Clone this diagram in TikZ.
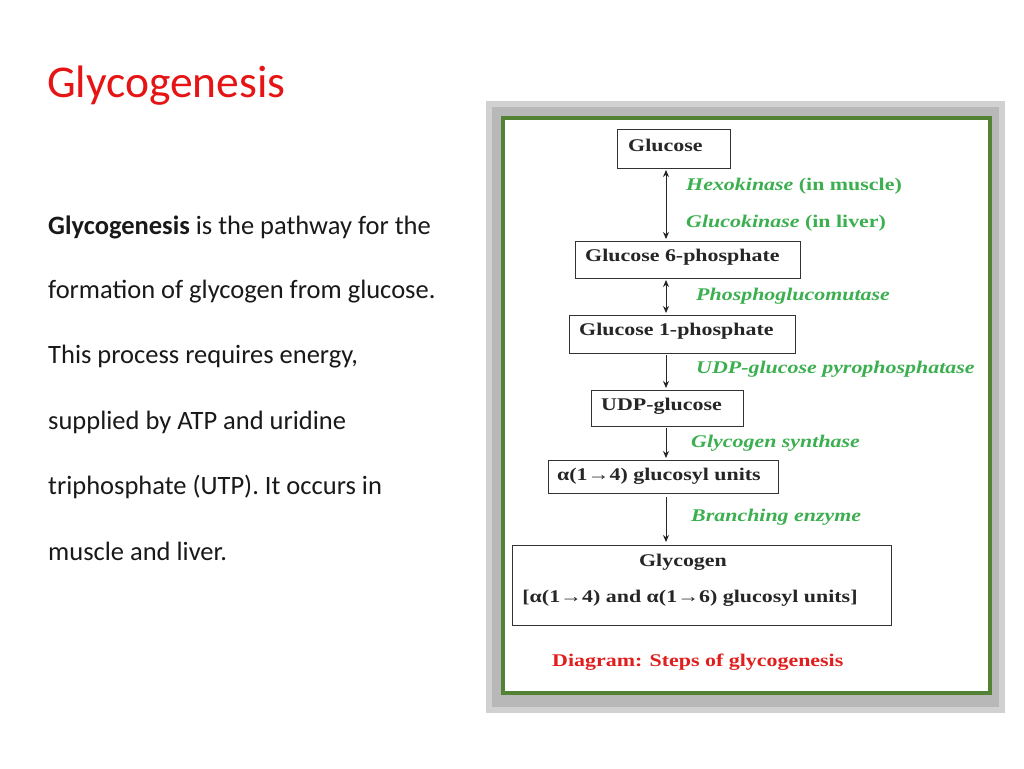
\documentclass[tikz,border=0pt]{standalone}
\usepackage{fontspec}
\setmainfont{Carlito}
\newfontfamily\dfont{Liberation Serif}
\usetikzlibrary{arrows.meta}
\definecolor{tred}{RGB}{230,20,20}
\definecolor{fgreen}{RGB}{84,130,53}
\definecolor{lgreen}{RGB}{60,175,80}
\definecolor{cred}{RGB}{225,30,30}
\newcommand{\dw}[1]{\scalebox{1.29}[1.05]{#1}}
\tikzset{
 bx/.style={draw=black!80,line width=0.8pt,inner sep=0pt,anchor=north west},
 bt/.style={anchor=west,font=\dfont\bfseries\fontsize{17}{20}\selectfont,text=black!85,inner sep=0pt},
 lb/.style={anchor=west,text=lgreen,font=\dfont\bfseries\fontsize{17}{20}\selectfont,inner sep=0pt},
 ar/.style={-{Stealth[length=7pt,width=6pt]},line width=0.9pt,black!85},
 dar/.style={{Stealth[length=7pt,width=6pt]}-{Stealth[length=7pt,width=6pt]},line width=0.9pt,black!85},
 body/.style={anchor=west,inner sep=0pt,font=\fontsize{26.5}{30}\selectfont,text=black!90}
}
\begin{document}
\begin{tikzpicture}[x=1pt,y=-1pt]
\useasboundingbox[fill=white] (0,0) rectangle (1024,768);
\node[anchor=west,inner sep=0pt,text=tred,font=\fontsize{45.5}{48}\selectfont] (title) at (47,86) {Glycogenesis};
\node[body] (t1) at (48,227) {\textbf{Glycogenesis} is the pathway for the};
\node[body] (t2) at (48,292) {formation of glycogen from glucose.};
\node[body] (t3) at (48,357) {This process requires energy,};
\node[body] (t4) at (48,422) {supplied by ATP and uridine};
\node[body] (t5) at (48,487) {triphosphate (UTP). It occurs in};
\node[body] (t6) at (48,551) {muscle and liver.};
% frame
\fill[black!18] (486,101) rectangle (1005,713);
\fill[black!28] (492,107) rectangle (999,707);
\draw[fgreen,line width=4pt,fill=white] (503,118) rectangle (990,693);
% boxes
\node[bx,minimum width=113pt,minimum height=39pt] (g) at (617,129) {};
\node[bt] at (628,145) {\dw{Glucose}};
\node[bx,minimum width=225pt,minimum height=37pt] (g6) at (575,241) {};
\node[bt] at (585,257) {\dw{Glucose 6-phosphate}};
\node[bx,minimum width=226pt,minimum height=38pt] (g1) at (569,315) {};
\node[bt] at (579,331) {\dw{Glucose 1-phosphate}};
\node[bx,minimum width=152pt,minimum height=36pt] (u) at (591,390) {};
\node[bt] at (601,406) {\dw{UDP-glucose}};
\node[bx,minimum width=230pt,minimum height=33pt] (a) at (548,460) {};
\node[bt] at (557,476) {\dw{α(1→4) glucosyl units}};
\node[bx,minimum width=379pt,minimum height=80pt] (gl) at (512,545) {};
\node[bt,anchor=center] at (683,562) {\dw{Glycogen}};
\node[bt,anchor=center] at (690,598) {\dw{[α(1→4) and α(1→6) glucosyl units]}};
% arrows
\coordinate (c1) at (666,170); \coordinate (c2) at (666,239);
\coordinate (c3) at (666,280); \coordinate (c4) at (666,313);
\coordinate (c5) at (666,355); \coordinate (c6) at (666,388);
\coordinate (c7) at (666,428); \coordinate (c8) at (666,458);
\coordinate (c9) at (666,497); \coordinate (c10) at (666,542);
\draw[dar] (c1) -- (c2);
\draw[dar] (c3) -- (c4);
\draw[ar] (c5) -- (c6);
\draw[ar] (c7) -- (c8);
\draw[ar] (c9) -- (c10);
% labels
\node[lb] (l1) at (686,186) {\dw{\itshape Hexokinase\upshape\ (in muscle)}};
\node[lb] (l2) at (686,223) {\dw{\itshape Glucokinase\upshape\ (in liver)}};
\node[lb] (l3) at (696,296) {\dw{\itshape Phosphoglucomutase}};
\node[lb] (l4) at (696,369) {\dw{\itshape UDP-glucose pyrophosphatase}};
\node[lb] (l5) at (691,443) {\dw{\itshape Glycogen synthase}};
\node[lb] (l6) at (691,517) {\dw{\itshape Branching enzyme}};
\node[anchor=west,inner sep=0pt,text=cred,font=\dfont\bfseries\fontsize{17}{20}\selectfont] (cap) at (552,662) {\dw{Diagram: Steps of glycogenesis}};
\end{tikzpicture}
\end{document}
